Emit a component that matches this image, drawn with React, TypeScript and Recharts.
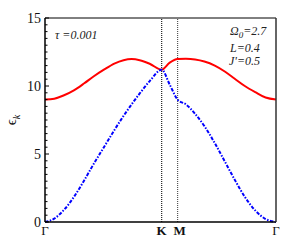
import React from 'react';
import { LineChart, Line, XAxis, YAxis, ReferenceLine } from 'recharts';

// position along the Γ-K-M-Γ path (0..1)
const kPath = [
  0, 0.04, 0.08, 0.125, 0.17, 0.21, 0.255, 0.3, 0.34, 0.375, 0.41, 0.455, 0.505,
  0.54, 0.574, 0.61, 0.65, 0.69, 0.735, 0.78, 0.82, 0.865, 0.91, 0.955, 1.0,
];
// upper band (red, solid)
const upperBand = [
  9.0, 9.07, 9.3, 9.68, 10.2, 10.7, 11.2, 11.65, 11.9, 11.98, 11.9, 11.62, 11.2,
  11.72, 11.98, 12.0, 11.95, 11.8, 11.5, 11.05, 10.55, 10.0, 9.55, 9.15, 9.0,
];
// lower band (blue, dash-dot)
const lowerBand = [
  0, 0.25, 0.85, 1.84, 3.07, 4.25, 5.5, 6.75, 7.8, 8.65, 9.45, 10.4, 11.2,
  10.1, 9.0, 8.65, 7.95, 7.05, 5.8, 4.4, 3.15, 1.85, 0.85, 0.22, 0,
];

const symPoints = [0, 0.505, 0.574, 1];
const symLabels = ['Γ', 'K', 'M', 'Γ'];
const yTicks = Array.from({ length: 31 }, (_, i) => i * 0.5);

const data = kPath.map((k, i) => ({ k, upper: upperBand[i], lower: lowerBand[i] }));

const FONT = '"Liberation Serif", "DejaVu Serif", serif';

function LeftTick(props: any) {
  const { x, y, payload } = props;
  const major = payload.value % 5 === 0;
  return (
    <g>
      <line x1={x} y1={y} x2={x + (major ? 4 : 2.5)} y2={y} stroke="#000" strokeWidth={1} />
      {major && (
        <text x={x - 4} y={y} dy={4.5} textAnchor="end" fontSize={14} fontFamily={FONT} fill="#111">
          {payload.value}
        </text>
      )}
    </g>
  );
}

function RightTick(props: any) {
  const { x, y, payload } = props;
  const major = payload.value % 5 === 0;
  return <line x1={x} y1={y} x2={x - (major ? 4 : 2.5)} y2={y} stroke="#333" strokeWidth={1} />;
}

function PathTick(props: any) {
  const { x, y, index } = props;
  const bold = index === 1 || index === 2;
  return (
    <text
      x={x + (index === 2 ? 2 : 0)}
      y={y}
      dy={13}
      textAnchor="middle"
      fontSize={13}
      fontWeight={bold ? 'bold' : 'normal'}
      fontFamily={FONT}
      fill="#111"
    >
      {symLabels[index]}
    </text>
  );
}

const note: React.CSSProperties = {
  position: 'absolute',
  fontFamily: FONT,
  fontStyle: 'italic',
  fontSize: 12,
  lineHeight: '12px',
  color: '#222',
  whiteSpace: 'nowrap',
};

export default function App() {
  return (
    <div style={{ position: 'absolute', left: 0, top: 0, width: 305, height: 249, background: '#fff' }}>
      <LineChart width={305} height={249} data={data} margin={{ top: 0, right: 0, bottom: 0, left: 0 }}>
        <XAxis
          xAxisId="bottom"
          dataKey="k"
          type="number"
          domain={[0, 1]}
          ticks={symPoints}
          interval={0}
          height={27}
          tickLine={false}
          tickSize={0}
          tickMargin={0}
          tick={<PathTick />}
          axisLine={{ stroke: '#000', strokeWidth: 1.5 }}
        />
        <XAxis
          xAxisId="top"
          orientation="top"
          type="number"
          domain={[0, 1]}
          height={18}
          tick={false}
          tickLine={false}
          axisLine={{ stroke: '#000', strokeWidth: 1 }}
        />
        <YAxis
          yAxisId="left"
          type="number"
          domain={[0, 15]}
          ticks={yTicks}
          interval={0}
          width={45}
          tickLine={false}
          tickSize={0}
          tickMargin={0}
          tick={<LeftTick />}
          axisLine={{ stroke: '#000', strokeWidth: 1.5 }}
          label={{
            content: () => (
              <text
                transform="rotate(-90, 16, 120)"
                x={16}
                y={120}
                textAnchor="middle"
                fontSize={15}
                fontFamily={FONT}
                fill="#111"
              >
                ϵ<tspan fontSize={10} fontStyle="italic" dy={4}>k</tspan>
              </text>
            ),
          }}
        />
        <YAxis
          yAxisId="right"
          orientation="right"
          type="number"
          domain={[0, 15]}
          ticks={yTicks}
          interval={0}
          width={29}
          tickLine={false}
          tickSize={0}
          tickMargin={0}
          tick={<RightTick />}
          axisLine={{ stroke: '#333', strokeWidth: 1.5 }}
        />
        <ReferenceLine xAxisId="bottom" yAxisId="left" x={0.505} stroke="#222" strokeDasharray="1 1" strokeWidth={1.2} />
        <ReferenceLine xAxisId="bottom" yAxisId="left" x={0.574} stroke="#555" strokeDasharray="1 1" strokeWidth={1.2} />
        <Line
          xAxisId="bottom"
          yAxisId="left"
          type="monotone"
          dataKey="upper"
          stroke="#ff0000"
          strokeWidth={2}
          dot={false}
          isAnimationActive={false}
        />
        <Line
          xAxisId="bottom"
          yAxisId="left"
          type="monotone"
          dataKey="lower"
          stroke="#0000ff"
          strokeWidth={2}
          strokeDasharray="3.5 1.5 1.5 1.5"
          dot={false}
          isAnimationActive={false}
        />
      </LineChart>
      <div style={{ ...note, left: 55, top: 29 }}>τ =0.001</div>
      <div style={{ ...note, left: 230, top: 25 }}>
        Ω<sub style={{ fontSize: 9, verticalAlign: '-3px', lineHeight: 0 }}>0</sub>=2.7
      </div>
      <div style={{ ...note, left: 230, top: 42 }}>L=0.4</div>
      <div style={{ ...note, left: 229, top: 55 }}>J'=0.5</div>
    </div>
  );
}
